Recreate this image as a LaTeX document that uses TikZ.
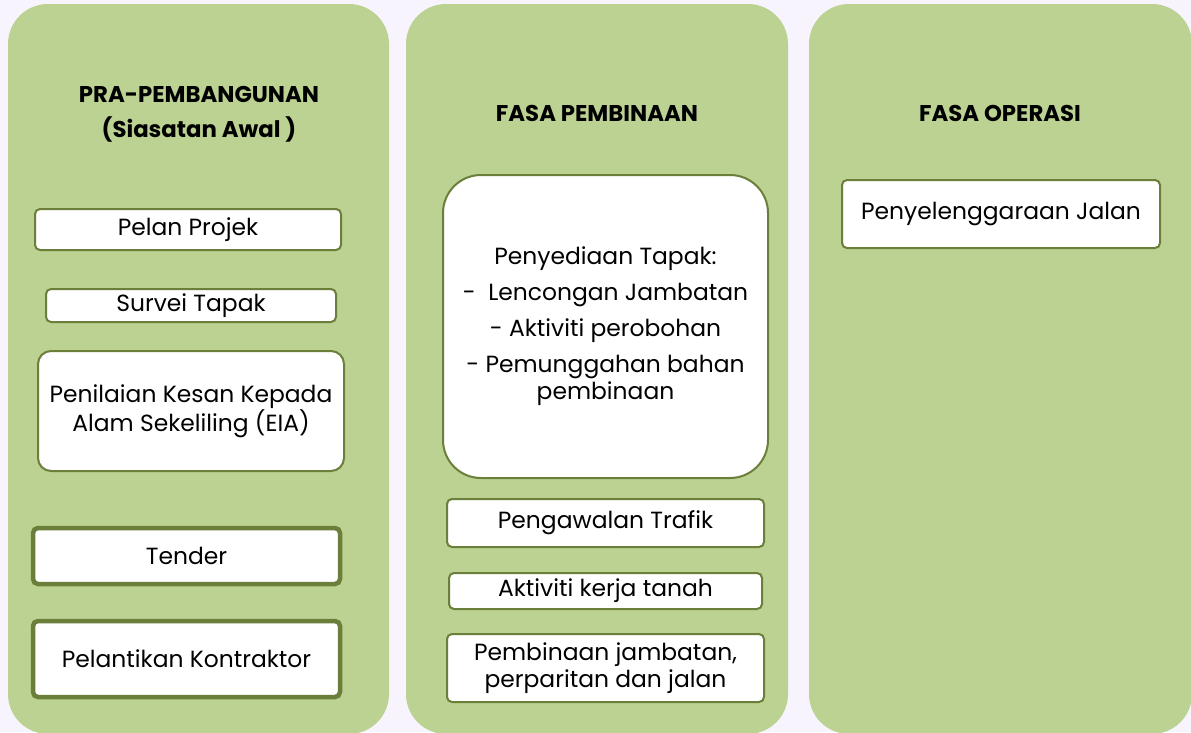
\documentclass[tikz,border=0pt]{standalone}
\usepackage{fontspec}
\setmainfont{Poppins}
\definecolor{leaf}{HTML}{BCD292}
\definecolor{moss}{HTML}{6B7F3A}
\definecolor{lilac}{HTML}{F8F4FD}
\tikzset{
  every node/.style={align=center,inner sep=0pt,font=\fontsize{23.4}{27}\selectfont},
  column/.style={fill=leaf,rounded corners=40pt},
  head/.style={font=\fontsize{22.8}{35}\selectfont\bfseries},
  task/.style={draw=moss,fill=white,line width=2pt,rounded corners=5pt},
  keytask/.style={task,line width=4.5pt},
  bigtask/.style={task,rounded corners=13pt},
  plantask/.style={task,rounded corners=38pt}
}

\begin{document}
\begin{tikzpicture}[x=1pt,y=-1pt]
      \useasboundingbox (0,0) rectangle (1191,732);
      \fill[lilac] (0,0) rectangle (1191,732);

      \fill[column] (8,4) rectangle (389,734);
      \fill[column] (406,4) rectangle (788,734);
      \fill[column] (809,4) rectangle (1192,734);

      \node [head] (pra) at (199,114) {PRA-PEMBANGUNAN\\(Siasatan Awal )};
      \node [head] (bina) at (597,113) {FASA PEMBINAAN};
      \node [head] (operasi) at (1000,113) {FASA OPERASI};

      \node [task, minimum width=306pt, minimum height=41pt] (pelan) at (188,229.5) {Pelan Projek};
      \node [task, minimum width=290pt, minimum height=33pt] (survei) at (191,305.5) {Survei Tapak};
      \node [bigtask, minimum width=306pt, minimum height=120pt] (eia) at (191,411) {Penilaian Kesan Kepada\\Alam Sekeliling (EIA)};
      \node [keytask, minimum width=307pt, minimum height=56pt] (tender) at (186.5,556) {Tender};
      \node [keytask, minimum width=307pt, minimum height=76pt] (lantik) at (186.5,659) {Pelantikan Kontraktor};

      \node [plantask, minimum width=325pt, minimum height=303pt] (tapak) at (605.5,326.5)
        {Penyediaan Tapak:\\[9pt]-\ \ Lencongan Jambatan\\[9pt]- Aktiviti perobohan\\[9pt]- Pemunggahan bahan\\pembinaan};
      \node [task, minimum width=317pt, minimum height=48pt] (trafik) at (605.5,523) {Pengawalan Trafik};
      \node [task, minimum width=313pt, minimum height=36pt] (tanah) at (605.5,591) {Aktiviti kerja tanah};
      \node [task, minimum width=317pt, minimum height=68pt] (jambatan) at (605.5,668) {Pembinaan jambatan,\\perparitan dan jalan};

      \node [task, minimum width=318pt, minimum height=68pt] (jalan) at (1001,214) {Penyelenggaraan Jalan};
    \end{tikzpicture}
\end{document}
